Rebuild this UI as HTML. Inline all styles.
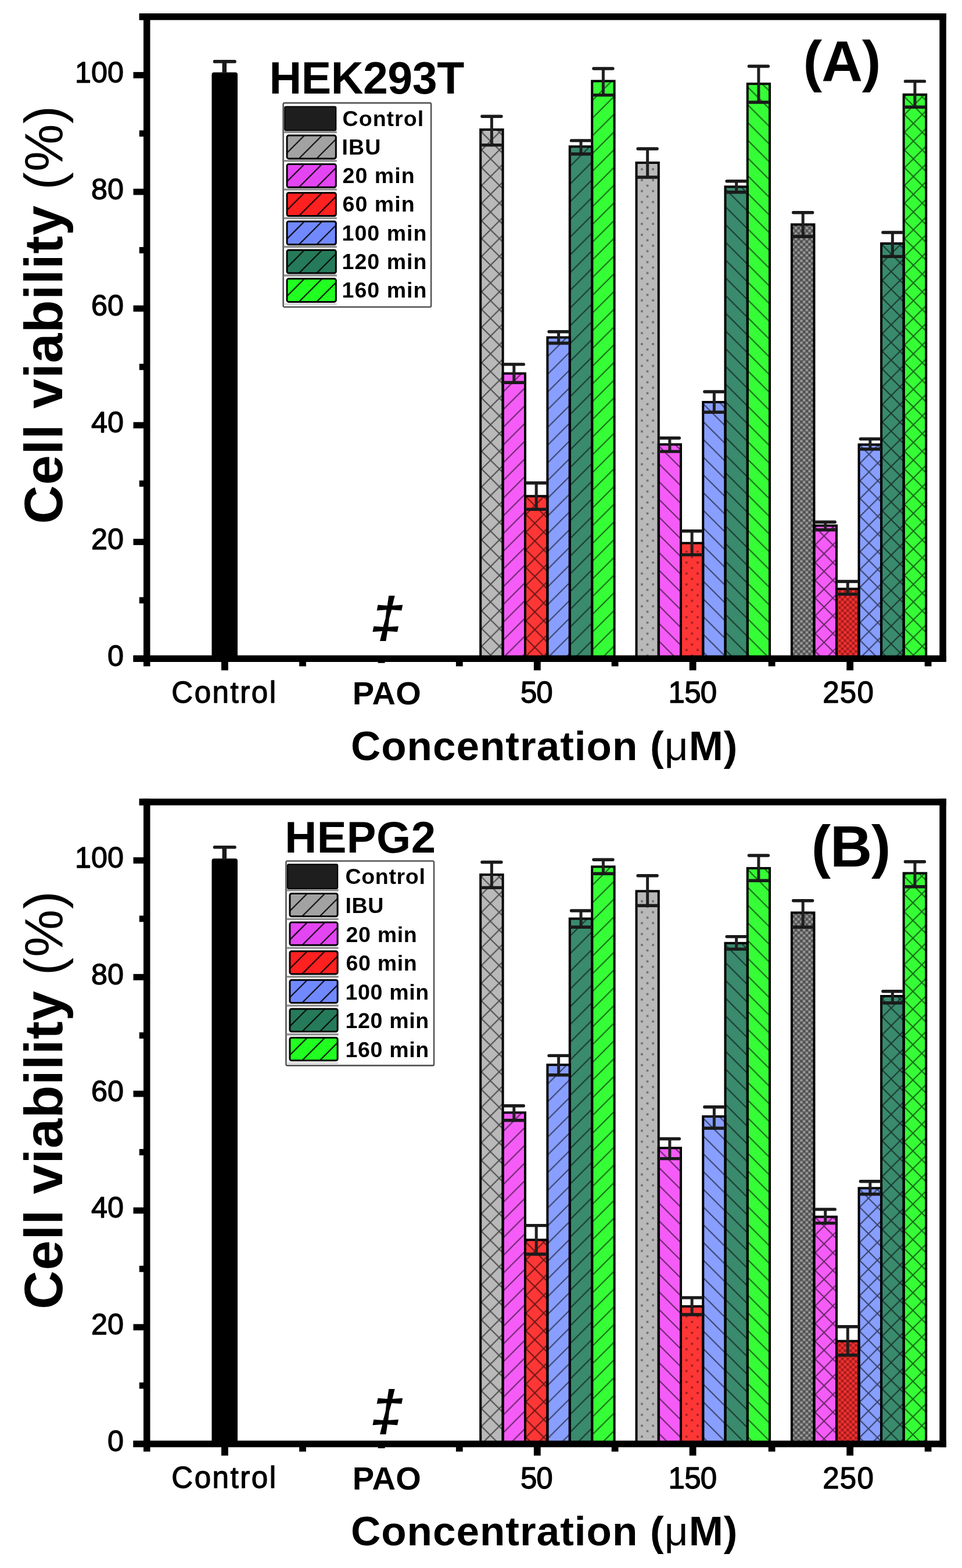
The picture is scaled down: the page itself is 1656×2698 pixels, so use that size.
<!DOCTYPE html><html><head><meta charset="utf-8"><title>Cell viability</title><style>
html,body{margin:0;padding:0;background:#fff;}
svg{display:block} text{font-family:'Liberation Sans', Arial, sans-serif;fill:#000}
</style></head><body>
<svg width="1656" height="2698" viewBox="0 0 1656 2698">
<defs>
<pattern id="pf" patternUnits="userSpaceOnUse" width="30.5" height="30.5">
<path d="M-15.25,15.25 L15.25,-15.25 M0,30.5 L30.5,0 M15.25,45.75 L45.75,15.25" stroke="#000" stroke-width="2.1" stroke-opacity="0.58" fill="none"/>
</pattern>
<pattern id="pb" patternUnits="userSpaceOnUse" width="30.5" height="30.5">
<path d="M-15.25,15.25 L15.25,45.75 M0,0 L30.5,30.5 M15.25,-15.25 L45.75,15.25" stroke="#000" stroke-width="2.1" stroke-opacity="0.58" fill="none"/>
</pattern>
<pattern id="px" patternUnits="userSpaceOnUse" width="30.5" height="30.5">
<path d="M-15.25,15.25 L15.25,-15.25 M0,30.5 L30.5,0 M15.25,45.75 L45.75,15.25" stroke="#000" stroke-width="2.1" stroke-opacity="0.58" fill="none"/>
<path d="M-15.25,15.25 L15.25,45.75 M0,0 L30.5,30.5 M15.25,-15.25 L45.75,15.25" stroke="#000" stroke-width="2.1" stroke-opacity="0.58" fill="none"/>
</pattern>
<pattern id="plf" patternUnits="userSpaceOnUse" width="31" height="31">
<path d="M-15.5,15.5 L15.5,-15.5 M0,31 L31,0 M15.5,46.5 L46.5,15.5" stroke="#000" stroke-width="2.2" stroke-opacity="0.8" fill="none"/>
</pattern>
<pattern id="pdot" patternUnits="userSpaceOnUse" width="19.2" height="18.8" patternTransform="translate(10.5,9.2)"><rect x="-1.75" y="-1.75" width="3.5" height="3.5" fill="#000" fill-opacity="0.42"/><rect x="17.45" y="-1.75" width="3.5" height="3.5" fill="#000" fill-opacity="0.42"/><rect x="-1.75" y="17.05" width="3.5" height="3.5" fill="#000" fill-opacity="0.42"/><rect x="17.45" y="17.05" width="3.5" height="3.5" fill="#000" fill-opacity="0.42"/><rect x="7.85" y="7.65" width="3.5" height="3.5" fill="#000" fill-opacity="0.42"/></pattern>
<pattern id="pchkg" patternUnits="userSpaceOnUse" width="9.4" height="9.4"><rect width="9.4" height="9.4" fill="#696969"/><rect x="0.6" y="0.9" width="3.6" height="2.9" fill="#a3a3a3"/><rect x="5.3" y="5.6" width="3.6" height="2.9" fill="#a3a3a3"/><rect x="5.3" y="0.9" width="3.6" height="2.9" fill="#494949"/><rect x="0.6" y="5.6" width="3.6" height="2.9" fill="#494949"/></pattern>
<pattern id="pchkr" patternUnits="userSpaceOnUse" width="9.4" height="9.4"><rect width="9.4" height="9.4" fill="#cc2626"/><rect x="0.6" y="0.9" width="3.6" height="2.9" fill="#fa3636"/><rect x="5.3" y="5.6" width="3.6" height="2.9" fill="#fa3636"/><rect x="5.3" y="0.9" width="3.6" height="2.9" fill="#981818"/><rect x="0.6" y="5.6" width="3.6" height="2.9" fill="#981818"/></pattern>
</defs>
<rect width="1656" height="2698" fill="#fff"/>
<rect x="364.5" y="124.4" width="44.5" height="1008.9" rx="4" fill="#000"/>
<line x1="386.3" y1="105.9" x2="386.3" y2="126.4" stroke="#1a1a1a" stroke-width="7.5"/>
<line x1="369.5" y1="105.9" x2="404" y2="105.9" stroke="#1a1a1a" stroke-width="5.6" stroke-linecap="round"/>
<rect x="827.20" y="223.00" width="38.40" height="907.50" fill="#b9b9b9"/>
<pattern id="hA50IBU" patternUnits="userSpaceOnUse" width="30.5" height="30.5" patternTransform="translate(5.65,14.05)"><path d="M-15.25,15.25 L15.25,-15.25 M0,30.5 L30.5,0 M15.25,45.75 L45.75,15.25 M-15.25,15.25 L15.25,45.75 M0,0 L30.5,30.5 M15.25,-15.25 L45.75,15.25" stroke="#000" stroke-width="2.1" stroke-opacity="0.58" fill="none"/></pattern>
<rect x="827.20" y="223.00" width="38.40" height="907.50" fill="url(#hA50IBU)"/>
<rect x="865.60" y="642.60" width="38.40" height="487.90" fill="#f55cf7"/>
<pattern id="hA5020" patternUnits="userSpaceOnUse" width="30.5" height="30.5" patternTransform="translate(0.00,15.50)"><path d="M-15.25,15.25 L15.25,-15.25 M0,30.5 L30.5,0 M15.25,45.75 L45.75,15.25" stroke="#000" stroke-width="2.1" stroke-opacity="0.58" fill="none"/></pattern>
<rect x="865.60" y="642.60" width="38.40" height="487.90" fill="url(#hA5020)"/>
<rect x="904.00" y="853.70" width="38.40" height="276.80" fill="#ff3636"/>
<pattern id="hA5060" patternUnits="userSpaceOnUse" width="30.5" height="30.5" patternTransform="translate(5.60,15.90)"><path d="M-15.25,15.25 L15.25,-15.25 M0,30.5 L30.5,0 M15.25,45.75 L45.75,15.25 M-15.25,15.25 L15.25,45.75 M0,0 L30.5,30.5 M15.25,-15.25 L45.75,15.25" stroke="#000" stroke-width="2.1" stroke-opacity="0.58" fill="none"/></pattern>
<rect x="904.00" y="853.70" width="38.40" height="276.80" fill="url(#hA5060)"/>
<rect x="942.40" y="580.60" width="38.40" height="549.90" fill="#889fff"/>
<pattern id="hA50100" patternUnits="userSpaceOnUse" width="30.5" height="30.5" patternTransform="translate(0.00,0.70)"><path d="M-15.25,15.25 L15.25,-15.25 M0,30.5 L30.5,0 M15.25,45.75 L45.75,15.25" stroke="#000" stroke-width="2.1" stroke-opacity="0.58" fill="none"/></pattern>
<rect x="942.40" y="580.60" width="38.40" height="549.90" fill="url(#hA50100)"/>
<rect x="980.80" y="252.20" width="38.40" height="878.30" fill="#3a8a6e"/>
<pattern id="hA50120" patternUnits="userSpaceOnUse" width="30.5" height="30.5" patternTransform="translate(0.00,17.00)"><path d="M-15.25,15.25 L15.25,-15.25 M0,30.5 L30.5,0 M15.25,45.75 L45.75,15.25" stroke="#000" stroke-width="2.1" stroke-opacity="0.58" fill="none"/></pattern>
<rect x="980.80" y="252.20" width="38.40" height="878.30" fill="url(#hA50120)"/>
<rect x="1019.20" y="139.50" width="38.40" height="991.00" fill="#36fe36"/>
<pattern id="hA50160" patternUnits="userSpaceOnUse" width="30.5" height="30.5" patternTransform="translate(0.00,3.00)"><path d="M-15.25,15.25 L15.25,-15.25 M0,30.5 L30.5,0 M15.25,45.75 L45.75,15.25" stroke="#000" stroke-width="2.1" stroke-opacity="0.58" fill="none"/></pattern>
<rect x="1019.20" y="139.50" width="38.40" height="991.00" fill="url(#hA50160)"/>
<rect x="827.20" y="223.00" width="38.40" height="907.50" fill="none" stroke="#000" stroke-width="4.0"/>
<rect x="865.60" y="642.60" width="38.40" height="487.90" fill="none" stroke="#000" stroke-width="4.0"/>
<rect x="904.00" y="853.70" width="38.40" height="276.80" fill="none" stroke="#000" stroke-width="4.0"/>
<rect x="942.40" y="580.60" width="38.40" height="549.90" fill="none" stroke="#000" stroke-width="4.0"/>
<rect x="980.80" y="252.20" width="38.40" height="878.30" fill="none" stroke="#000" stroke-width="4.0"/>
<rect x="1019.20" y="139.50" width="38.40" height="991.00" fill="none" stroke="#000" stroke-width="4.0"/>
<line x1="846.40" y1="200.30" x2="846.40" y2="249.60" stroke="#202020" stroke-width="5"/>
<line x1="829.90" y1="200.30" x2="862.90" y2="200.30" stroke="#1a1a1a" stroke-width="5.4" stroke-linecap="round"/>
<line x1="829.90" y1="249.60" x2="862.90" y2="249.60" stroke="#1a1a1a" stroke-width="5.4" stroke-linecap="round"/>
<line x1="884.80" y1="626.90" x2="884.80" y2="658.30" stroke="#202020" stroke-width="5"/>
<line x1="868.30" y1="626.90" x2="901.30" y2="626.90" stroke="#1a1a1a" stroke-width="5.4" stroke-linecap="round"/>
<line x1="868.30" y1="658.30" x2="901.30" y2="658.30" stroke="#1a1a1a" stroke-width="5.4" stroke-linecap="round"/>
<line x1="923.20" y1="831.00" x2="923.20" y2="876.40" stroke="#202020" stroke-width="5"/>
<line x1="906.70" y1="831.00" x2="939.70" y2="831.00" stroke="#1a1a1a" stroke-width="5.4" stroke-linecap="round"/>
<line x1="906.70" y1="876.40" x2="939.70" y2="876.40" stroke="#1a1a1a" stroke-width="5.4" stroke-linecap="round"/>
<line x1="961.60" y1="570.70" x2="961.60" y2="590.50" stroke="#202020" stroke-width="5"/>
<line x1="945.10" y1="570.70" x2="978.10" y2="570.70" stroke="#1a1a1a" stroke-width="5.4" stroke-linecap="round"/>
<line x1="945.10" y1="590.50" x2="978.10" y2="590.50" stroke="#1a1a1a" stroke-width="5.4" stroke-linecap="round"/>
<line x1="1000.00" y1="241.90" x2="1000.00" y2="265.00" stroke="#202020" stroke-width="5"/>
<line x1="983.50" y1="241.90" x2="1016.50" y2="241.90" stroke="#1a1a1a" stroke-width="5.4" stroke-linecap="round"/>
<line x1="983.50" y1="265.00" x2="1016.50" y2="265.00" stroke="#1a1a1a" stroke-width="5.4" stroke-linecap="round"/>
<line x1="1038.40" y1="118.00" x2="1038.40" y2="163.60" stroke="#202020" stroke-width="5"/>
<line x1="1021.90" y1="118.00" x2="1054.90" y2="118.00" stroke="#1a1a1a" stroke-width="5.4" stroke-linecap="round"/>
<line x1="1021.90" y1="163.60" x2="1054.90" y2="163.60" stroke="#1a1a1a" stroke-width="5.4" stroke-linecap="round"/>
<rect x="1095.50" y="280.00" width="38.25" height="850.50" fill="#b9b9b9"/>
<rect x="1095.50" y="280.00" width="38.25" height="850.50" fill="url(#pdot)"/>
<rect x="1133.75" y="764.70" width="38.25" height="365.80" fill="#f55cf7"/>
<pattern id="hA15020" patternUnits="userSpaceOnUse" width="30.5" height="30.5" patternTransform="translate(0.00,29.80)"><path d="M-15.25,15.25 L15.25,45.75 M0,0 L30.5,30.5 M15.25,-15.25 L45.75,15.25" stroke="#000" stroke-width="2.1" stroke-opacity="0.58" fill="none"/></pattern>
<rect x="1133.75" y="764.70" width="38.25" height="365.80" fill="url(#hA15020)"/>
<rect x="1172.00" y="934.50" width="38.25" height="196.00" fill="#ff3636"/>
<rect x="1172.00" y="934.50" width="38.25" height="196.00" fill="url(#pdot)"/>
<rect x="1210.25" y="691.90" width="38.25" height="438.60" fill="#889fff"/>
<pattern id="hA150100" patternUnits="userSpaceOnUse" width="30.5" height="30.5" patternTransform="translate(0.00,2.90)"><path d="M-15.25,15.25 L15.25,45.75 M0,0 L30.5,30.5 M15.25,-15.25 L45.75,15.25" stroke="#000" stroke-width="2.1" stroke-opacity="0.58" fill="none"/></pattern>
<rect x="1210.25" y="691.90" width="38.25" height="438.60" fill="url(#hA150100)"/>
<rect x="1248.50" y="321.30" width="38.25" height="809.20" fill="#3a8a6e"/>
<pattern id="hA150120" patternUnits="userSpaceOnUse" width="30.5" height="30.5" patternTransform="translate(0.00,22.00)"><path d="M-15.25,15.25 L15.25,45.75 M0,0 L30.5,30.5 M15.25,-15.25 L45.75,15.25" stroke="#000" stroke-width="2.1" stroke-opacity="0.58" fill="none"/></pattern>
<rect x="1248.50" y="321.30" width="38.25" height="809.20" fill="url(#hA150120)"/>
<rect x="1286.75" y="144.20" width="38.25" height="986.30" fill="#36fe36"/>
<pattern id="hA150160" patternUnits="userSpaceOnUse" width="30.5" height="30.5" patternTransform="translate(0.00,21.70)"><path d="M-15.25,15.25 L15.25,45.75 M0,0 L30.5,30.5 M15.25,-15.25 L45.75,15.25" stroke="#000" stroke-width="2.1" stroke-opacity="0.58" fill="none"/></pattern>
<rect x="1286.75" y="144.20" width="38.25" height="986.30" fill="url(#hA150160)"/>
<rect x="1095.50" y="280.00" width="38.25" height="850.50" fill="none" stroke="#000" stroke-width="4.0"/>
<rect x="1133.75" y="764.70" width="38.25" height="365.80" fill="none" stroke="#000" stroke-width="4.0"/>
<rect x="1172.00" y="934.50" width="38.25" height="196.00" fill="none" stroke="#000" stroke-width="4.0"/>
<rect x="1210.25" y="691.90" width="38.25" height="438.60" fill="none" stroke="#000" stroke-width="4.0"/>
<rect x="1248.50" y="321.30" width="38.25" height="809.20" fill="none" stroke="#000" stroke-width="4.0"/>
<rect x="1286.75" y="144.20" width="38.25" height="986.30" fill="none" stroke="#000" stroke-width="4.0"/>
<line x1="1114.62" y1="256.00" x2="1114.62" y2="305.00" stroke="#202020" stroke-width="5"/>
<line x1="1098.12" y1="256.00" x2="1131.12" y2="256.00" stroke="#1a1a1a" stroke-width="5.4" stroke-linecap="round"/>
<line x1="1098.12" y1="305.00" x2="1131.12" y2="305.00" stroke="#1a1a1a" stroke-width="5.4" stroke-linecap="round"/>
<line x1="1152.88" y1="753.70" x2="1152.88" y2="776.90" stroke="#202020" stroke-width="5"/>
<line x1="1136.38" y1="753.70" x2="1169.38" y2="753.70" stroke="#1a1a1a" stroke-width="5.4" stroke-linecap="round"/>
<line x1="1136.38" y1="776.90" x2="1169.38" y2="776.90" stroke="#1a1a1a" stroke-width="5.4" stroke-linecap="round"/>
<line x1="1191.12" y1="913.80" x2="1191.12" y2="954.60" stroke="#202020" stroke-width="5"/>
<line x1="1174.62" y1="913.80" x2="1207.62" y2="913.80" stroke="#1a1a1a" stroke-width="5.4" stroke-linecap="round"/>
<line x1="1174.62" y1="954.60" x2="1207.62" y2="954.60" stroke="#1a1a1a" stroke-width="5.4" stroke-linecap="round"/>
<line x1="1229.38" y1="674.00" x2="1229.38" y2="709.30" stroke="#202020" stroke-width="5"/>
<line x1="1212.88" y1="674.00" x2="1245.88" y2="674.00" stroke="#1a1a1a" stroke-width="5.4" stroke-linecap="round"/>
<line x1="1212.88" y1="709.30" x2="1245.88" y2="709.30" stroke="#1a1a1a" stroke-width="5.4" stroke-linecap="round"/>
<line x1="1267.62" y1="311.80" x2="1267.62" y2="330.80" stroke="#202020" stroke-width="5"/>
<line x1="1251.12" y1="311.80" x2="1284.12" y2="311.80" stroke="#1a1a1a" stroke-width="5.4" stroke-linecap="round"/>
<line x1="1251.12" y1="330.80" x2="1284.12" y2="330.80" stroke="#1a1a1a" stroke-width="5.4" stroke-linecap="round"/>
<line x1="1305.88" y1="114.00" x2="1305.88" y2="176.00" stroke="#202020" stroke-width="5"/>
<line x1="1289.38" y1="114.00" x2="1322.38" y2="114.00" stroke="#1a1a1a" stroke-width="5.4" stroke-linecap="round"/>
<line x1="1289.38" y1="176.00" x2="1322.38" y2="176.00" stroke="#1a1a1a" stroke-width="5.4" stroke-linecap="round"/>
<rect x="1362.90" y="386.30" width="38.55" height="744.20" fill="#b9b9b9"/>
<rect x="1362.90" y="386.30" width="38.55" height="744.20" fill="url(#pchkg)"/>
<rect x="1401.45" y="904.40" width="38.55" height="226.10" fill="#f55cf7"/>
<pattern id="hA25020" patternUnits="userSpaceOnUse" width="30.5" height="30.5" patternTransform="translate(0.25,22.55)"><path d="M-15.25,15.25 L15.25,-15.25 M0,30.5 L30.5,0 M15.25,45.75 L45.75,15.25 M-15.25,15.25 L15.25,45.75 M0,0 L30.5,30.5 M15.25,-15.25 L45.75,15.25" stroke="#000" stroke-width="2.1" stroke-opacity="0.58" fill="none"/></pattern>
<rect x="1401.45" y="904.40" width="38.55" height="226.10" fill="url(#hA25020)"/>
<rect x="1440.00" y="1013.30" width="38.55" height="117.20" fill="#ff3636"/>
<rect x="1440.00" y="1013.30" width="38.55" height="117.20" fill="url(#pchkr)"/>
<rect x="1478.55" y="765.00" width="38.55" height="365.50" fill="#889fff"/>
<pattern id="hA250100" patternUnits="userSpaceOnUse" width="30.5" height="30.5" patternTransform="translate(1.30,19.10)"><path d="M-15.25,15.25 L15.25,-15.25 M0,30.5 L30.5,0 M15.25,45.75 L45.75,15.25 M-15.25,15.25 L15.25,45.75 M0,0 L30.5,30.5 M15.25,-15.25 L45.75,15.25" stroke="#000" stroke-width="2.1" stroke-opacity="0.58" fill="none"/></pattern>
<rect x="1478.55" y="765.00" width="38.55" height="365.50" fill="url(#hA250100)"/>
<rect x="1517.10" y="419.00" width="38.55" height="711.50" fill="#3a8a6e"/>
<pattern id="hA250120" patternUnits="userSpaceOnUse" width="30.5" height="30.5" patternTransform="translate(9.00,9.75)"><path d="M-15.25,15.25 L15.25,-15.25 M0,30.5 L30.5,0 M15.25,45.75 L45.75,15.25 M-15.25,15.25 L15.25,45.75 M0,0 L30.5,30.5 M15.25,-15.25 L45.75,15.25" stroke="#000" stroke-width="2.1" stroke-opacity="0.58" fill="none"/></pattern>
<rect x="1517.10" y="419.00" width="38.55" height="711.50" fill="url(#hA250120)"/>
<rect x="1555.65" y="162.80" width="38.55" height="967.70" fill="#36fe36"/>
<pattern id="hA250160" patternUnits="userSpaceOnUse" width="30.5" height="30.5" patternTransform="translate(1.55,14.10)"><path d="M-15.25,15.25 L15.25,-15.25 M0,30.5 L30.5,0 M15.25,45.75 L45.75,15.25 M-15.25,15.25 L15.25,45.75 M0,0 L30.5,30.5 M15.25,-15.25 L45.75,15.25" stroke="#000" stroke-width="2.1" stroke-opacity="0.58" fill="none"/></pattern>
<rect x="1555.65" y="162.80" width="38.55" height="967.70" fill="url(#hA250160)"/>
<rect x="1362.90" y="386.30" width="38.55" height="744.20" fill="none" stroke="#000" stroke-width="4.0"/>
<rect x="1401.45" y="904.40" width="38.55" height="226.10" fill="none" stroke="#000" stroke-width="4.0"/>
<rect x="1440.00" y="1013.30" width="38.55" height="117.20" fill="none" stroke="#000" stroke-width="4.0"/>
<rect x="1478.55" y="765.00" width="38.55" height="365.50" fill="none" stroke="#000" stroke-width="4.0"/>
<rect x="1517.10" y="419.00" width="38.55" height="711.50" fill="none" stroke="#000" stroke-width="4.0"/>
<rect x="1555.65" y="162.80" width="38.55" height="967.70" fill="none" stroke="#000" stroke-width="4.0"/>
<line x1="1382.18" y1="365.70" x2="1382.18" y2="407.00" stroke="#202020" stroke-width="5"/>
<line x1="1365.68" y1="365.70" x2="1398.68" y2="365.70" stroke="#1a1a1a" stroke-width="5.4" stroke-linecap="round"/>
<line x1="1365.68" y1="407.00" x2="1398.68" y2="407.00" stroke="#1a1a1a" stroke-width="5.4" stroke-linecap="round"/>
<line x1="1420.73" y1="898.30" x2="1420.73" y2="911.70" stroke="#202020" stroke-width="5"/>
<line x1="1404.23" y1="898.30" x2="1437.23" y2="898.30" stroke="#1a1a1a" stroke-width="5.4" stroke-linecap="round"/>
<line x1="1404.23" y1="911.70" x2="1437.23" y2="911.70" stroke="#1a1a1a" stroke-width="5.4" stroke-linecap="round"/>
<line x1="1459.28" y1="1000.50" x2="1459.28" y2="1022.40" stroke="#202020" stroke-width="5"/>
<line x1="1442.78" y1="1000.50" x2="1475.78" y2="1000.50" stroke="#1a1a1a" stroke-width="5.4" stroke-linecap="round"/>
<line x1="1442.78" y1="1022.40" x2="1475.78" y2="1022.40" stroke="#1a1a1a" stroke-width="5.4" stroke-linecap="round"/>
<line x1="1497.83" y1="755.20" x2="1497.83" y2="772.90" stroke="#202020" stroke-width="5"/>
<line x1="1481.33" y1="755.20" x2="1514.33" y2="755.20" stroke="#1a1a1a" stroke-width="5.4" stroke-linecap="round"/>
<line x1="1481.33" y1="772.90" x2="1514.33" y2="772.90" stroke="#1a1a1a" stroke-width="5.4" stroke-linecap="round"/>
<line x1="1536.38" y1="400.00" x2="1536.38" y2="441.40" stroke="#202020" stroke-width="5"/>
<line x1="1519.88" y1="400.00" x2="1552.88" y2="400.00" stroke="#1a1a1a" stroke-width="5.4" stroke-linecap="round"/>
<line x1="1519.88" y1="441.40" x2="1552.88" y2="441.40" stroke="#1a1a1a" stroke-width="5.4" stroke-linecap="round"/>
<line x1="1574.93" y1="139.90" x2="1574.93" y2="184.30" stroke="#202020" stroke-width="5"/>
<line x1="1558.43" y1="139.90" x2="1591.43" y2="139.90" stroke="#1a1a1a" stroke-width="5.4" stroke-linecap="round"/>
<line x1="1558.43" y1="184.30" x2="1591.43" y2="184.30" stroke="#1a1a1a" stroke-width="5.4" stroke-linecap="round"/>
<rect x="239.7" y="23" width="1389.3" height="11.5" fill="#000"/>
<rect x="247" y="23" width="11.5" height="1123.5" fill="#000"/>
<rect x="1617.3" y="23" width="11.5" height="1116" fill="#000"/>
<rect x="229.5" y="1127.6" width="1399.5" height="11.4" fill="#000"/>
<rect x="229.5" y="1127.9" width="18" height="10.8" fill="#000"/>
<rect x="239.8" y="1027.5" width="8" height="10.8" fill="#000"/>
<rect x="229.5" y="927.1" width="18" height="10.8" fill="#000"/>
<rect x="239.8" y="826.7" width="8" height="10.8" fill="#000"/>
<rect x="229.5" y="726.3" width="18" height="10.8" fill="#000"/>
<rect x="239.8" y="625.9" width="8" height="10.8" fill="#000"/>
<rect x="229.5" y="525.5" width="18" height="10.8" fill="#000"/>
<rect x="239.8" y="425.1" width="8" height="10.8" fill="#000"/>
<rect x="229.5" y="324.7" width="18" height="10.8" fill="#000"/>
<rect x="239.8" y="224.3" width="8" height="10.8" fill="#000"/>
<rect x="229.5" y="123.9" width="18" height="10.8" fill="#000"/>
<rect x="239.8" y="23.5" width="8" height="10.8" fill="#000"/>
<rect x="381.0" y="1138" width="11.8" height="15.4" fill="#000"/>
<rect x="650.7" y="1138" width="11.8" height="15.4" fill="#000"/>
<rect x="918.9" y="1138" width="11.8" height="15.4" fill="#000"/>
<rect x="1186.7" y="1138" width="11.8" height="15.4" fill="#000"/>
<rect x="1457.3" y="1138" width="11.8" height="15.4" fill="#000"/>
<rect x="515.1" y="1138" width="11.8" height="8.5" fill="#000"/>
<rect x="784.9" y="1138" width="11.8" height="8.5" fill="#000"/>
<rect x="1052.7" y="1138" width="11.8" height="8.5" fill="#000"/>
<rect x="1322.7" y="1138" width="11.8" height="8.5" fill="#000"/>
<rect x="1591.7" y="1138" width="11.8" height="8.5" fill="#000"/>
<text x="185.0" y="1145.8" style="font-size:50.3px;font-weight:400;letter-spacing:0px;stroke:#000;stroke-width:1.3px;stroke-linejoin:round">0</text>
<text x="157.0" y="945.0" style="font-size:50.3px;font-weight:400;letter-spacing:0px;stroke:#000;stroke-width:1.3px;stroke-linejoin:round">20</text>
<text x="157.0" y="744.2" style="font-size:50.3px;font-weight:400;letter-spacing:0px;stroke:#000;stroke-width:1.3px;stroke-linejoin:round">40</text>
<text x="157.0" y="543.4" style="font-size:50.3px;font-weight:400;letter-spacing:0px;stroke:#000;stroke-width:1.3px;stroke-linejoin:round">60</text>
<text x="157.0" y="342.6" style="font-size:50.3px;font-weight:400;letter-spacing:0px;stroke:#000;stroke-width:1.3px;stroke-linejoin:round">80</text>
<text x="129.0" y="141.8" style="font-size:50.3px;font-weight:400;letter-spacing:0px;stroke:#000;stroke-width:1.3px;stroke-linejoin:round">100</text>
<rect x="571.3" y="1140.8" width="187" height="102" fill="#fff"/>
<text x="295.3" y="1208.6" style="font-size:51px;font-weight:400;letter-spacing:2.564px;stroke:#000;stroke-width:1.3px;stroke-linejoin:round">Control</text>
<text x="606.7" y="1211.8" style="font-size:56px;font-weight:700;letter-spacing:0.5px">PAO</text>
<text x="896.0" y="1209.3" style="font-size:51px;font-weight:400;letter-spacing:-1.2px;stroke:#000;stroke-width:1.3px;stroke-linejoin:round">50</text>
<text x="1150.5" y="1209.3" style="font-size:51px;font-weight:400;letter-spacing:-0.7px;stroke:#000;stroke-width:1.3px;stroke-linejoin:round">150</text>
<text x="1416.2" y="1209.3" style="font-size:51px;font-weight:400;letter-spacing:1.3px;stroke:#000;stroke-width:1.3px;stroke-linejoin:round">250</text>
<text x="603.9" y="1307.9" style="font-size:71px;font-weight:700;letter-spacing:1.015px">Concentration (<tspan style="font-weight:400">μ</tspan>M)</text>
<text transform="translate(107.4,901.4) rotate(-90)" style="font-size:92px;font-weight:700;letter-spacing:0.816px">Cell viability <tspan style="font-weight:400">(%)</tspan></text>
<rect x="364.5" y="1477.2" width="44.5" height="1007.3" rx="4" fill="#000"/>
<line x1="386.3" y1="1457.8" x2="386.3" y2="1479.2" stroke="#1a1a1a" stroke-width="7.5"/>
<line x1="369.5" y1="1457.8" x2="404" y2="1457.8" stroke="#1a1a1a" stroke-width="5.6" stroke-linecap="round"/>
<rect x="827.20" y="1505.00" width="38.40" height="976.70" fill="#b9b9b9"/>
<pattern id="hB50IBU" patternUnits="userSpaceOnUse" width="30.5" height="30.5" patternTransform="translate(5.25,14.25)"><path d="M-15.25,15.25 L15.25,-15.25 M0,30.5 L30.5,0 M15.25,45.75 L45.75,15.25 M-15.25,15.25 L15.25,45.75 M0,0 L30.5,30.5 M15.25,-15.25 L45.75,15.25" stroke="#000" stroke-width="2.1" stroke-opacity="0.58" fill="none"/></pattern>
<rect x="827.20" y="1505.00" width="38.40" height="976.70" fill="url(#hB50IBU)"/>
<rect x="865.60" y="1914.40" width="38.40" height="567.30" fill="#f55cf7"/>
<pattern id="hB5020" patternUnits="userSpaceOnUse" width="30.5" height="30.5" patternTransform="translate(0.00,7.00)"><path d="M-15.25,15.25 L15.25,-15.25 M0,30.5 L30.5,0 M15.25,45.75 L45.75,15.25" stroke="#000" stroke-width="2.1" stroke-opacity="0.58" fill="none"/></pattern>
<rect x="865.60" y="1914.40" width="38.40" height="567.30" fill="url(#hB5020)"/>
<rect x="904.00" y="2133.40" width="38.40" height="348.30" fill="#ff3636"/>
<pattern id="hB5060" patternUnits="userSpaceOnUse" width="30.5" height="30.5" patternTransform="translate(5.60,17.70)"><path d="M-15.25,15.25 L15.25,-15.25 M0,30.5 L30.5,0 M15.25,45.75 L45.75,15.25 M-15.25,15.25 L15.25,45.75 M0,0 L30.5,30.5 M15.25,-15.25 L45.75,15.25" stroke="#000" stroke-width="2.1" stroke-opacity="0.58" fill="none"/></pattern>
<rect x="904.00" y="2133.40" width="38.40" height="348.30" fill="url(#hB5060)"/>
<rect x="942.40" y="1832.20" width="38.40" height="649.50" fill="#889fff"/>
<pattern id="hB50100" patternUnits="userSpaceOnUse" width="30.5" height="30.5" patternTransform="translate(0.00,2.00)"><path d="M-15.25,15.25 L15.25,-15.25 M0,30.5 L30.5,0 M15.25,45.75 L45.75,15.25" stroke="#000" stroke-width="2.1" stroke-opacity="0.58" fill="none"/></pattern>
<rect x="942.40" y="1832.20" width="38.40" height="649.50" fill="url(#hB50100)"/>
<rect x="980.80" y="1580.70" width="38.40" height="901.00" fill="#3a8a6e"/>
<pattern id="hB50120" patternUnits="userSpaceOnUse" width="30.5" height="30.5" patternTransform="translate(0.00,29.80)"><path d="M-15.25,15.25 L15.25,-15.25 M0,30.5 L30.5,0 M15.25,45.75 L45.75,15.25" stroke="#000" stroke-width="2.1" stroke-opacity="0.58" fill="none"/></pattern>
<rect x="980.80" y="1580.70" width="38.40" height="901.00" fill="url(#hB50120)"/>
<rect x="1019.20" y="1491.30" width="38.40" height="990.40" fill="#36fe36"/>
<pattern id="hB50160" patternUnits="userSpaceOnUse" width="30.5" height="30.5" patternTransform="translate(0.00,11.40)"><path d="M-15.25,15.25 L15.25,-15.25 M0,30.5 L30.5,0 M15.25,45.75 L45.75,15.25" stroke="#000" stroke-width="2.1" stroke-opacity="0.58" fill="none"/></pattern>
<rect x="1019.20" y="1491.30" width="38.40" height="990.40" fill="url(#hB50160)"/>
<rect x="827.20" y="1505.00" width="38.40" height="976.70" fill="none" stroke="#000" stroke-width="4.0"/>
<rect x="865.60" y="1914.40" width="38.40" height="567.30" fill="none" stroke="#000" stroke-width="4.0"/>
<rect x="904.00" y="2133.40" width="38.40" height="348.30" fill="none" stroke="#000" stroke-width="4.0"/>
<rect x="942.40" y="1832.20" width="38.40" height="649.50" fill="none" stroke="#000" stroke-width="4.0"/>
<rect x="980.80" y="1580.70" width="38.40" height="901.00" fill="none" stroke="#000" stroke-width="4.0"/>
<rect x="1019.20" y="1491.30" width="38.40" height="990.40" fill="none" stroke="#000" stroke-width="4.0"/>
<line x1="846.40" y1="1483.50" x2="846.40" y2="1527.40" stroke="#202020" stroke-width="5"/>
<line x1="829.90" y1="1483.50" x2="862.90" y2="1483.50" stroke="#1a1a1a" stroke-width="5.4" stroke-linecap="round"/>
<line x1="829.90" y1="1527.40" x2="862.90" y2="1527.40" stroke="#1a1a1a" stroke-width="5.4" stroke-linecap="round"/>
<line x1="884.80" y1="1902.80" x2="884.80" y2="1927.70" stroke="#202020" stroke-width="5"/>
<line x1="868.30" y1="1902.80" x2="901.30" y2="1902.80" stroke="#1a1a1a" stroke-width="5.4" stroke-linecap="round"/>
<line x1="868.30" y1="1927.70" x2="901.30" y2="1927.70" stroke="#1a1a1a" stroke-width="5.4" stroke-linecap="round"/>
<line x1="923.20" y1="2108.60" x2="923.20" y2="2158.00" stroke="#202020" stroke-width="5"/>
<line x1="906.70" y1="2108.60" x2="939.70" y2="2108.60" stroke="#1a1a1a" stroke-width="5.4" stroke-linecap="round"/>
<line x1="906.70" y1="2158.00" x2="939.70" y2="2158.00" stroke="#1a1a1a" stroke-width="5.4" stroke-linecap="round"/>
<line x1="961.60" y1="1816.40" x2="961.60" y2="1849.80" stroke="#202020" stroke-width="5"/>
<line x1="945.10" y1="1816.40" x2="978.10" y2="1816.40" stroke="#1a1a1a" stroke-width="5.4" stroke-linecap="round"/>
<line x1="945.10" y1="1849.80" x2="978.10" y2="1849.80" stroke="#1a1a1a" stroke-width="5.4" stroke-linecap="round"/>
<line x1="1000.00" y1="1567.00" x2="1000.00" y2="1595.30" stroke="#202020" stroke-width="5"/>
<line x1="983.50" y1="1567.00" x2="1016.50" y2="1567.00" stroke="#1a1a1a" stroke-width="5.4" stroke-linecap="round"/>
<line x1="983.50" y1="1595.30" x2="1016.50" y2="1595.30" stroke="#1a1a1a" stroke-width="5.4" stroke-linecap="round"/>
<line x1="1038.40" y1="1479.20" x2="1038.40" y2="1503.30" stroke="#202020" stroke-width="5"/>
<line x1="1021.90" y1="1479.20" x2="1054.90" y2="1479.20" stroke="#1a1a1a" stroke-width="5.4" stroke-linecap="round"/>
<line x1="1021.90" y1="1503.30" x2="1054.90" y2="1503.30" stroke="#1a1a1a" stroke-width="5.4" stroke-linecap="round"/>
<rect x="1095.50" y="1533.40" width="38.25" height="948.30" fill="#b9b9b9"/>
<rect x="1095.50" y="1533.40" width="38.25" height="948.30" fill="url(#pdot)"/>
<rect x="1133.75" y="1975.30" width="38.25" height="506.40" fill="#f55cf7"/>
<pattern id="hB15020" patternUnits="userSpaceOnUse" width="30.5" height="30.5" patternTransform="translate(0.00,20.70)"><path d="M-15.25,15.25 L15.25,45.75 M0,0 L30.5,30.5 M15.25,-15.25 L45.75,15.25" stroke="#000" stroke-width="2.1" stroke-opacity="0.58" fill="none"/></pattern>
<rect x="1133.75" y="1975.30" width="38.25" height="506.40" fill="url(#hB15020)"/>
<rect x="1172.00" y="2247.80" width="38.25" height="233.90" fill="#ff3636"/>
<rect x="1172.00" y="2247.80" width="38.25" height="233.90" fill="url(#pdot)"/>
<rect x="1210.25" y="1921.10" width="38.25" height="560.60" fill="#889fff"/>
<pattern id="hB150100" patternUnits="userSpaceOnUse" width="30.5" height="30.5" patternTransform="translate(0.00,12.10)"><path d="M-15.25,15.25 L15.25,45.75 M0,0 L30.5,30.5 M15.25,-15.25 L45.75,15.25" stroke="#000" stroke-width="2.1" stroke-opacity="0.58" fill="none"/></pattern>
<rect x="1210.25" y="1921.10" width="38.25" height="560.60" fill="url(#hB150100)"/>
<rect x="1248.50" y="1622.80" width="38.25" height="858.90" fill="#3a8a6e"/>
<pattern id="hB150120" patternUnits="userSpaceOnUse" width="30.5" height="30.5" patternTransform="translate(0.00,11.10)"><path d="M-15.25,15.25 L15.25,45.75 M0,0 L30.5,30.5 M15.25,-15.25 L45.75,15.25" stroke="#000" stroke-width="2.1" stroke-opacity="0.58" fill="none"/></pattern>
<rect x="1248.50" y="1622.80" width="38.25" height="858.90" fill="url(#hB150120)"/>
<rect x="1286.75" y="1493.90" width="38.25" height="987.80" fill="#36fe36"/>
<pattern id="hB150160" patternUnits="userSpaceOnUse" width="30.5" height="30.5" patternTransform="translate(0.00,26.20)"><path d="M-15.25,15.25 L15.25,45.75 M0,0 L30.5,30.5 M15.25,-15.25 L45.75,15.25" stroke="#000" stroke-width="2.1" stroke-opacity="0.58" fill="none"/></pattern>
<rect x="1286.75" y="1493.90" width="38.25" height="987.80" fill="url(#hB150160)"/>
<rect x="1095.50" y="1533.40" width="38.25" height="948.30" fill="none" stroke="#000" stroke-width="4.0"/>
<rect x="1133.75" y="1975.30" width="38.25" height="506.40" fill="none" stroke="#000" stroke-width="4.0"/>
<rect x="1172.00" y="2247.80" width="38.25" height="233.90" fill="none" stroke="#000" stroke-width="4.0"/>
<rect x="1210.25" y="1921.10" width="38.25" height="560.60" fill="none" stroke="#000" stroke-width="4.0"/>
<rect x="1248.50" y="1622.80" width="38.25" height="858.90" fill="none" stroke="#000" stroke-width="4.0"/>
<rect x="1286.75" y="1493.90" width="38.25" height="987.80" fill="none" stroke="#000" stroke-width="4.0"/>
<line x1="1114.62" y1="1506.70" x2="1114.62" y2="1558.30" stroke="#202020" stroke-width="5"/>
<line x1="1098.12" y1="1506.70" x2="1131.12" y2="1506.70" stroke="#1a1a1a" stroke-width="5.4" stroke-linecap="round"/>
<line x1="1098.12" y1="1558.30" x2="1131.12" y2="1558.30" stroke="#1a1a1a" stroke-width="5.4" stroke-linecap="round"/>
<line x1="1152.88" y1="1959.50" x2="1152.88" y2="1993.60" stroke="#202020" stroke-width="5"/>
<line x1="1136.38" y1="1959.50" x2="1169.38" y2="1959.50" stroke="#1a1a1a" stroke-width="5.4" stroke-linecap="round"/>
<line x1="1136.38" y1="1993.60" x2="1169.38" y2="1993.60" stroke="#1a1a1a" stroke-width="5.4" stroke-linecap="round"/>
<line x1="1191.12" y1="2232.90" x2="1191.12" y2="2262.00" stroke="#202020" stroke-width="5"/>
<line x1="1174.62" y1="2232.90" x2="1207.62" y2="2232.90" stroke="#1a1a1a" stroke-width="5.4" stroke-linecap="round"/>
<line x1="1174.62" y1="2262.00" x2="1207.62" y2="2262.00" stroke="#1a1a1a" stroke-width="5.4" stroke-linecap="round"/>
<line x1="1229.38" y1="1904.70" x2="1229.38" y2="1941.20" stroke="#202020" stroke-width="5"/>
<line x1="1212.88" y1="1904.70" x2="1245.88" y2="1904.70" stroke="#1a1a1a" stroke-width="5.4" stroke-linecap="round"/>
<line x1="1212.88" y1="1941.20" x2="1245.88" y2="1941.20" stroke="#1a1a1a" stroke-width="5.4" stroke-linecap="round"/>
<line x1="1267.62" y1="1611.60" x2="1267.62" y2="1633.10" stroke="#202020" stroke-width="5"/>
<line x1="1251.12" y1="1611.60" x2="1284.12" y2="1611.60" stroke="#1a1a1a" stroke-width="5.4" stroke-linecap="round"/>
<line x1="1251.12" y1="1633.10" x2="1284.12" y2="1633.10" stroke="#1a1a1a" stroke-width="5.4" stroke-linecap="round"/>
<line x1="1305.88" y1="1472.00" x2="1305.88" y2="1515.30" stroke="#202020" stroke-width="5"/>
<line x1="1289.38" y1="1472.00" x2="1322.38" y2="1472.00" stroke="#1a1a1a" stroke-width="5.4" stroke-linecap="round"/>
<line x1="1289.38" y1="1515.30" x2="1322.38" y2="1515.30" stroke="#1a1a1a" stroke-width="5.4" stroke-linecap="round"/>
<rect x="1362.90" y="1570.40" width="38.55" height="911.30" fill="#b9b9b9"/>
<rect x="1362.90" y="1570.40" width="38.55" height="911.30" fill="url(#pchkg)"/>
<rect x="1401.45" y="2093.70" width="38.55" height="388.00" fill="#f55cf7"/>
<pattern id="hB25020" patternUnits="userSpaceOnUse" width="30.5" height="30.5" patternTransform="translate(0.25,20.55)"><path d="M-15.25,15.25 L15.25,-15.25 M0,30.5 L30.5,0 M15.25,45.75 L45.75,15.25 M-15.25,15.25 L15.25,45.75 M0,0 L30.5,30.5 M15.25,-15.25 L45.75,15.25" stroke="#000" stroke-width="2.1" stroke-opacity="0.58" fill="none"/></pattern>
<rect x="1401.45" y="2093.70" width="38.55" height="388.00" fill="url(#hB25020)"/>
<rect x="1440.00" y="2307.60" width="38.55" height="174.10" fill="#ff3636"/>
<rect x="1440.00" y="2307.60" width="38.55" height="174.10" fill="url(#pchkr)"/>
<rect x="1478.55" y="2044.40" width="38.55" height="437.30" fill="#889fff"/>
<pattern id="hB250100" patternUnits="userSpaceOnUse" width="30.5" height="30.5" patternTransform="translate(0.50,18.30)"><path d="M-15.25,15.25 L15.25,-15.25 M0,30.5 L30.5,0 M15.25,45.75 L45.75,15.25 M-15.25,15.25 L15.25,45.75 M0,0 L30.5,30.5 M15.25,-15.25 L45.75,15.25" stroke="#000" stroke-width="2.1" stroke-opacity="0.58" fill="none"/></pattern>
<rect x="1478.55" y="2044.40" width="38.55" height="437.30" fill="url(#hB250100)"/>
<rect x="1517.10" y="1714.00" width="38.55" height="767.70" fill="#3a8a6e"/>
<pattern id="hB250120" patternUnits="userSpaceOnUse" width="30.5" height="30.5" patternTransform="translate(-6.25,11.25)"><path d="M-15.25,15.25 L15.25,-15.25 M0,30.5 L30.5,0 M15.25,45.75 L45.75,15.25 M-15.25,15.25 L15.25,45.75 M0,0 L30.5,30.5 M15.25,-15.25 L45.75,15.25" stroke="#000" stroke-width="2.1" stroke-opacity="0.58" fill="none"/></pattern>
<rect x="1517.10" y="1714.00" width="38.55" height="767.70" fill="url(#hB250120)"/>
<rect x="1555.65" y="1502.50" width="38.55" height="979.20" fill="#36fe36"/>
<pattern id="hB250160" patternUnits="userSpaceOnUse" width="30.5" height="30.5" patternTransform="translate(0.75,13.10)"><path d="M-15.25,15.25 L15.25,-15.25 M0,30.5 L30.5,0 M15.25,45.75 L45.75,15.25 M-15.25,15.25 L15.25,45.75 M0,0 L30.5,30.5 M15.25,-15.25 L45.75,15.25" stroke="#000" stroke-width="2.1" stroke-opacity="0.58" fill="none"/></pattern>
<rect x="1555.65" y="1502.50" width="38.55" height="979.20" fill="url(#hB250160)"/>
<rect x="1362.90" y="1570.40" width="38.55" height="911.30" fill="none" stroke="#000" stroke-width="4.0"/>
<rect x="1401.45" y="2093.70" width="38.55" height="388.00" fill="none" stroke="#000" stroke-width="4.0"/>
<rect x="1440.00" y="2307.60" width="38.55" height="174.10" fill="none" stroke="#000" stroke-width="4.0"/>
<rect x="1478.55" y="2044.40" width="38.55" height="437.30" fill="none" stroke="#000" stroke-width="4.0"/>
<rect x="1517.10" y="1714.00" width="38.55" height="767.70" fill="none" stroke="#000" stroke-width="4.0"/>
<rect x="1555.65" y="1502.50" width="38.55" height="979.20" fill="none" stroke="#000" stroke-width="4.0"/>
<line x1="1382.18" y1="1549.70" x2="1382.18" y2="1595.30" stroke="#202020" stroke-width="5"/>
<line x1="1365.68" y1="1549.70" x2="1398.68" y2="1549.70" stroke="#1a1a1a" stroke-width="5.4" stroke-linecap="round"/>
<line x1="1365.68" y1="1595.30" x2="1398.68" y2="1595.30" stroke="#1a1a1a" stroke-width="5.4" stroke-linecap="round"/>
<line x1="1420.73" y1="2080.90" x2="1420.73" y2="2104.60" stroke="#202020" stroke-width="5"/>
<line x1="1404.23" y1="2080.90" x2="1437.23" y2="2080.90" stroke="#1a1a1a" stroke-width="5.4" stroke-linecap="round"/>
<line x1="1404.23" y1="2104.60" x2="1437.23" y2="2104.60" stroke="#1a1a1a" stroke-width="5.4" stroke-linecap="round"/>
<line x1="1459.28" y1="2282.80" x2="1459.28" y2="2331.80" stroke="#202020" stroke-width="5"/>
<line x1="1442.78" y1="2282.80" x2="1475.78" y2="2282.80" stroke="#1a1a1a" stroke-width="5.4" stroke-linecap="round"/>
<line x1="1442.78" y1="2331.80" x2="1475.78" y2="2331.80" stroke="#1a1a1a" stroke-width="5.4" stroke-linecap="round"/>
<line x1="1497.83" y1="2032.80" x2="1497.83" y2="2054.70" stroke="#202020" stroke-width="5"/>
<line x1="1481.33" y1="2032.80" x2="1514.33" y2="2032.80" stroke="#1a1a1a" stroke-width="5.4" stroke-linecap="round"/>
<line x1="1481.33" y1="2054.70" x2="1514.33" y2="2054.70" stroke="#1a1a1a" stroke-width="5.4" stroke-linecap="round"/>
<line x1="1536.38" y1="1705.70" x2="1536.38" y2="1725.80" stroke="#202020" stroke-width="5"/>
<line x1="1519.88" y1="1705.70" x2="1552.88" y2="1705.70" stroke="#1a1a1a" stroke-width="5.4" stroke-linecap="round"/>
<line x1="1519.88" y1="1725.80" x2="1552.88" y2="1725.80" stroke="#1a1a1a" stroke-width="5.4" stroke-linecap="round"/>
<line x1="1574.93" y1="1482.70" x2="1574.93" y2="1525.70" stroke="#202020" stroke-width="5"/>
<line x1="1558.43" y1="1482.70" x2="1591.43" y2="1482.70" stroke="#1a1a1a" stroke-width="5.4" stroke-linecap="round"/>
<line x1="1558.43" y1="1525.70" x2="1591.43" y2="1525.70" stroke="#1a1a1a" stroke-width="5.4" stroke-linecap="round"/>
<rect x="239.7" y="1374.2" width="1389.3" height="11.5" fill="#000"/>
<rect x="247" y="1374.2" width="11.5" height="1123.5" fill="#000"/>
<rect x="1617.3" y="1374.2" width="11.5" height="1116" fill="#000"/>
<rect x="229.5" y="2478.8" width="1399.5" height="11.4" fill="#000"/>
<rect x="229.5" y="2479.1" width="18" height="10.8" fill="#000"/>
<rect x="239.8" y="2378.7" width="8" height="10.8" fill="#000"/>
<rect x="229.5" y="2278.3" width="18" height="10.8" fill="#000"/>
<rect x="239.8" y="2177.9" width="8" height="10.8" fill="#000"/>
<rect x="229.5" y="2077.5" width="18" height="10.8" fill="#000"/>
<rect x="239.8" y="1977.1" width="8" height="10.8" fill="#000"/>
<rect x="229.5" y="1876.7" width="18" height="10.8" fill="#000"/>
<rect x="239.8" y="1776.3" width="8" height="10.8" fill="#000"/>
<rect x="229.5" y="1675.9" width="18" height="10.8" fill="#000"/>
<rect x="239.8" y="1575.5" width="8" height="10.8" fill="#000"/>
<rect x="229.5" y="1475.1" width="18" height="10.8" fill="#000"/>
<rect x="239.8" y="1374.7" width="8" height="10.8" fill="#000"/>
<rect x="381.0" y="2489.2" width="11.8" height="15.4" fill="#000"/>
<rect x="650.7" y="2489.2" width="11.8" height="15.4" fill="#000"/>
<rect x="918.9" y="2489.2" width="11.8" height="15.4" fill="#000"/>
<rect x="1186.7" y="2489.2" width="11.8" height="15.4" fill="#000"/>
<rect x="1457.3" y="2489.2" width="11.8" height="15.4" fill="#000"/>
<rect x="515.1" y="2489.2" width="11.8" height="8.5" fill="#000"/>
<rect x="784.9" y="2489.2" width="11.8" height="8.5" fill="#000"/>
<rect x="1052.7" y="2489.2" width="11.8" height="8.5" fill="#000"/>
<rect x="1322.7" y="2489.2" width="11.8" height="8.5" fill="#000"/>
<rect x="1591.7" y="2489.2" width="11.8" height="8.5" fill="#000"/>
<text x="185.0" y="2497.0" style="font-size:50.3px;font-weight:400;letter-spacing:0px;stroke:#000;stroke-width:1.3px;stroke-linejoin:round">0</text>
<text x="157.0" y="2296.2" style="font-size:50.3px;font-weight:400;letter-spacing:0px;stroke:#000;stroke-width:1.3px;stroke-linejoin:round">20</text>
<text x="157.0" y="2095.4" style="font-size:50.3px;font-weight:400;letter-spacing:0px;stroke:#000;stroke-width:1.3px;stroke-linejoin:round">40</text>
<text x="157.0" y="1894.6" style="font-size:50.3px;font-weight:400;letter-spacing:0px;stroke:#000;stroke-width:1.3px;stroke-linejoin:round">60</text>
<text x="157.0" y="1693.8" style="font-size:50.3px;font-weight:400;letter-spacing:0px;stroke:#000;stroke-width:1.3px;stroke-linejoin:round">80</text>
<text x="129.0" y="1493.0" style="font-size:50.3px;font-weight:400;letter-spacing:0px;stroke:#000;stroke-width:1.3px;stroke-linejoin:round">100</text>
<rect x="571.3" y="2492.0" width="187" height="102" fill="#fff"/>
<text x="295.3" y="2559.8" style="font-size:51px;font-weight:400;letter-spacing:2.564px;stroke:#000;stroke-width:1.3px;stroke-linejoin:round">Control</text>
<text x="606.7" y="2563.0" style="font-size:56px;font-weight:700;letter-spacing:0.5px">PAO</text>
<text x="896.0" y="2560.5" style="font-size:51px;font-weight:400;letter-spacing:-1.2px;stroke:#000;stroke-width:1.3px;stroke-linejoin:round">50</text>
<text x="1150.5" y="2560.5" style="font-size:51px;font-weight:400;letter-spacing:-0.7px;stroke:#000;stroke-width:1.3px;stroke-linejoin:round">150</text>
<text x="1416.2" y="2560.5" style="font-size:51px;font-weight:400;letter-spacing:1.3px;stroke:#000;stroke-width:1.3px;stroke-linejoin:round">250</text>
<text x="603.9" y="2659.1000000000004" style="font-size:71px;font-weight:700;letter-spacing:1.015px">Concentration (<tspan style="font-weight:400">μ</tspan>M)</text>
<text transform="translate(107.4,2252.8) rotate(-90)" style="font-size:92px;font-weight:700;letter-spacing:0.815px">Cell viability <tspan style="font-weight:400">(%)</tspan></text>
<text x="463.5" y="160.8" style="font-size:77px;font-weight:700;letter-spacing:-0.398px">HEK293T</text>
<text x="1382.6" y="138.5" style="font-size:98px;font-weight:700;letter-spacing:-1.1px">(A)</text>
<text x="639.1" y="1095.6" style="font-size:98.78px;font-weight:700;letter-spacing:0px;font-style:italic">‡</text>
<rect x="488.6" y="178.1" width="254.5" height="351.19999999999993" fill="#bdbdbd" opacity="0.5"/>
<rect x="487.6" y="177.1" width="254.5" height="351.19999999999993" rx="2.5" fill="#fff" stroke="#555" stroke-width="2.6"/>
<rect x="490.2" y="183.5" width="88.09999999999997" height="41.099999999999994" rx="2" fill="#1e1e1e" stroke="#000" stroke-width="2"/>
<rect x="488.6" y="225.8" width="91.2" height="3.4" fill="#8e8e8e"/>
<clipPath id="cAIBU"><rect x="494.5" y="233.6" width="83.3" height="38.8"/></clipPath>
<rect x="494.0" y="233.1" width="84.3" height="39.8" rx="3" fill="#a2a2a2"/>
<path d="M411.9,284.4 L474.7,221.6 M442.3,284.4 L505.1,221.6 M472.7,284.4 L535.5,221.6 M503.1,284.4 L565.9,221.6 M533.5,284.4 L596.3,221.6 M563.9,284.4 L626.7,221.6" stroke="#000" stroke-width="2.3" stroke-opacity="0.85" clip-path="url(#cAIBU)"/>
<rect x="494.0" y="233.1" width="84.3" height="39.8" rx="3" fill="none" stroke="#000" stroke-width="3"/>
<rect x="488.6" y="275.1" width="91.2" height="3.4" fill="#8e8e8e"/>
<clipPath id="cA20"><rect x="494.5" y="282.9" width="83.3" height="38.8"/></clipPath>
<rect x="494.0" y="282.4" width="84.3" height="39.8" rx="3" fill="#e445f2"/>
<path d="M411.9,333.7 L474.7,270.9 M442.3,333.7 L505.1,270.9 M472.7,333.7 L535.5,270.9 M503.1,333.7 L565.9,270.9 M533.5,333.7 L596.3,270.9 M563.9,333.7 L626.7,270.9" stroke="#000" stroke-width="2.3" stroke-opacity="0.85" clip-path="url(#cA20)"/>
<rect x="494.0" y="282.4" width="84.3" height="39.8" rx="3" fill="none" stroke="#000" stroke-width="3"/>
<rect x="488.6" y="324.4" width="91.2" height="3.4" fill="#8e8e8e"/>
<clipPath id="cA60"><rect x="494.5" y="332.2" width="83.3" height="38.8"/></clipPath>
<rect x="494.0" y="331.7" width="84.3" height="39.8" rx="3" fill="#ff2020"/>
<path d="M411.9,383.0 L474.7,320.2 M442.3,383.0 L505.1,320.2 M472.7,383.0 L535.5,320.2 M503.1,383.0 L565.9,320.2 M533.5,383.0 L596.3,320.2 M563.9,383.0 L626.7,320.2" stroke="#000" stroke-width="2.3" stroke-opacity="0.85" clip-path="url(#cA60)"/>
<rect x="494.0" y="331.7" width="84.3" height="39.8" rx="3" fill="none" stroke="#000" stroke-width="3"/>
<rect x="488.6" y="373.7" width="91.2" height="3.4" fill="#8e8e8e"/>
<clipPath id="cA100"><rect x="494.5" y="381.5" width="83.3" height="38.8"/></clipPath>
<rect x="494.0" y="381.0" width="84.3" height="39.8" rx="3" fill="#7189ff"/>
<path d="M411.9,432.3 L474.7,369.5 M442.3,432.3 L505.1,369.5 M472.7,432.3 L535.5,369.5 M503.1,432.3 L565.9,369.5 M533.5,432.3 L596.3,369.5 M563.9,432.3 L626.7,369.5" stroke="#000" stroke-width="2.3" stroke-opacity="0.85" clip-path="url(#cA100)"/>
<rect x="494.0" y="381.0" width="84.3" height="39.8" rx="3" fill="none" stroke="#000" stroke-width="3"/>
<rect x="488.6" y="423.0" width="91.2" height="3.4" fill="#8e8e8e"/>
<clipPath id="cA120"><rect x="494.5" y="430.8" width="83.3" height="38.8"/></clipPath>
<rect x="494.0" y="430.3" width="84.3" height="39.8" rx="3" fill="#257a5a"/>
<path d="M411.9,481.6 L474.7,418.8 M442.3,481.6 L505.1,418.8 M472.7,481.6 L535.5,418.8 M503.1,481.6 L565.9,418.8 M533.5,481.6 L596.3,418.8 M563.9,481.6 L626.7,418.8" stroke="#000" stroke-width="2.3" stroke-opacity="0.85" clip-path="url(#cA120)"/>
<rect x="494.0" y="430.3" width="84.3" height="39.8" rx="3" fill="none" stroke="#000" stroke-width="3"/>
<rect x="488.6" y="472.3" width="91.2" height="3.4" fill="#8e8e8e"/>
<clipPath id="cA160"><rect x="494.5" y="480.1" width="83.3" height="38.8"/></clipPath>
<rect x="494.0" y="479.6" width="84.3" height="39.8" rx="3" fill="#20ff20"/>
<path d="M411.9,530.9 L474.7,468.1 M442.3,530.9 L505.1,468.1 M472.7,530.9 L535.5,468.1 M503.1,530.9 L565.9,468.1 M533.5,530.9 L596.3,468.1 M563.9,530.9 L626.7,468.1" stroke="#000" stroke-width="2.3" stroke-opacity="0.85" clip-path="url(#cA160)"/>
<rect x="494.0" y="479.6" width="84.3" height="39.8" rx="3" fill="none" stroke="#000" stroke-width="3"/>
<rect x="488.6" y="522.2" width="91.2" height="2" fill="#c8c8c8"/>
<text x="589.6" y="217.0" style="font-size:37.5px;font-weight:700;letter-spacing:1.03px">Control</text>
<text x="588.6" y="266.13" style="font-size:37.5px;font-weight:700;letter-spacing:1.03px">IBU</text>
<text x="589.6" y="315.26" style="font-size:37.5px;font-weight:700;letter-spacing:1.03px">20 min</text>
<text x="589.6" y="364.39" style="font-size:37.5px;font-weight:700;letter-spacing:1.03px">60 min</text>
<text x="588.6" y="413.52" style="font-size:37.5px;font-weight:700;letter-spacing:1.03px">100 min</text>
<text x="588.6" y="462.65" style="font-size:37.5px;font-weight:700;letter-spacing:1.03px">120 min</text>
<text x="588.6" y="511.78" style="font-size:37.5px;font-weight:700;letter-spacing:1.03px">160 min</text>
<text x="490.3" y="1466.5" style="font-size:76px;font-weight:700;letter-spacing:0.5px">HEPG2</text>
<text x="1396.8" y="1491.3" style="font-size:100px;font-weight:700;letter-spacing:-1.1px">(B)</text>
<text x="639.1" y="2461.1" style="font-size:98.78px;font-weight:700;letter-spacing:0px;font-style:italic">‡</text>
<rect x="493.4" y="1482.5" width="254.60000000000002" height="351.9000000000001" fill="#bdbdbd" opacity="0.5"/>
<rect x="492.4" y="1481.5" width="254.60000000000002" height="351.9000000000001" rx="2.5" fill="#fff" stroke="#555" stroke-width="2.6"/>
<rect x="494.9" y="1487.3" width="86.30000000000007" height="41.700000000000045" rx="2" fill="#1e1e1e" stroke="#000" stroke-width="2"/>
<rect x="493.4" y="1530.2" width="89.2" height="3.4" fill="#8e8e8e"/>
<clipPath id="cBIBU"><rect x="499.4" y="1538.0" width="81.2" height="38.2"/></clipPath>
<rect x="498.9" y="1537.5" width="82.2" height="39.2" rx="3" fill="#a2a2a2"/>
<path d="M417.4,1588.2 L479.6,1526.0 M447.8,1588.2 L510.0,1526.0 M478.2,1588.2 L540.4,1526.0 M508.6,1588.2 L570.8,1526.0 M539.0,1588.2 L601.2,1526.0 M569.4,1588.2 L631.6,1526.0" stroke="#000" stroke-width="2.3" stroke-opacity="0.85" clip-path="url(#cBIBU)"/>
<rect x="498.9" y="1537.5" width="82.2" height="39.2" rx="3" fill="none" stroke="#000" stroke-width="3"/>
<rect x="493.4" y="1579.8" width="89.2" height="3.4" fill="#8e8e8e"/>
<clipPath id="cB20"><rect x="499.4" y="1587.6" width="81.2" height="38.2"/></clipPath>
<rect x="498.9" y="1587.1" width="82.2" height="39.2" rx="3" fill="#e445f2"/>
<path d="M417.4,1637.8 L479.6,1575.6 M447.8,1637.8 L510.0,1575.6 M478.2,1637.8 L540.4,1575.6 M508.6,1637.8 L570.8,1575.6 M539.0,1637.8 L601.2,1575.6 M569.4,1637.8 L631.6,1575.6" stroke="#000" stroke-width="2.3" stroke-opacity="0.85" clip-path="url(#cB20)"/>
<rect x="498.9" y="1587.1" width="82.2" height="39.2" rx="3" fill="none" stroke="#000" stroke-width="3"/>
<rect x="493.4" y="1629.4" width="89.2" height="3.4" fill="#8e8e8e"/>
<clipPath id="cB60"><rect x="499.4" y="1637.2" width="81.2" height="38.2"/></clipPath>
<rect x="498.9" y="1636.7" width="82.2" height="39.2" rx="3" fill="#ff2020"/>
<path d="M417.4,1687.4 L479.6,1625.2 M447.8,1687.4 L510.0,1625.2 M478.2,1687.4 L540.4,1625.2 M508.6,1687.4 L570.8,1625.2 M539.0,1687.4 L601.2,1625.2 M569.4,1687.4 L631.6,1625.2" stroke="#000" stroke-width="2.3" stroke-opacity="0.85" clip-path="url(#cB60)"/>
<rect x="498.9" y="1636.7" width="82.2" height="39.2" rx="3" fill="none" stroke="#000" stroke-width="3"/>
<rect x="493.4" y="1679.0" width="89.2" height="3.4" fill="#8e8e8e"/>
<clipPath id="cB100"><rect x="499.4" y="1686.8" width="81.2" height="38.2"/></clipPath>
<rect x="498.9" y="1686.3" width="82.2" height="39.2" rx="3" fill="#7189ff"/>
<path d="M417.4,1737.0 L479.6,1674.8 M447.8,1737.0 L510.0,1674.8 M478.2,1737.0 L540.4,1674.8 M508.6,1737.0 L570.8,1674.8 M539.0,1737.0 L601.2,1674.8 M569.4,1737.0 L631.6,1674.8" stroke="#000" stroke-width="2.3" stroke-opacity="0.85" clip-path="url(#cB100)"/>
<rect x="498.9" y="1686.3" width="82.2" height="39.2" rx="3" fill="none" stroke="#000" stroke-width="3"/>
<rect x="493.4" y="1728.6" width="89.2" height="3.4" fill="#8e8e8e"/>
<clipPath id="cB120"><rect x="499.4" y="1736.4" width="81.2" height="38.2"/></clipPath>
<rect x="498.9" y="1735.9" width="82.2" height="39.2" rx="3" fill="#257a5a"/>
<path d="M417.4,1786.6 L479.6,1724.4 M447.8,1786.6 L510.0,1724.4 M478.2,1786.6 L540.4,1724.4 M508.6,1786.6 L570.8,1724.4 M539.0,1786.6 L601.2,1724.4 M569.4,1786.6 L631.6,1724.4" stroke="#000" stroke-width="2.3" stroke-opacity="0.85" clip-path="url(#cB120)"/>
<rect x="498.9" y="1735.9" width="82.2" height="39.2" rx="3" fill="none" stroke="#000" stroke-width="3"/>
<rect x="493.4" y="1778.2" width="89.2" height="3.4" fill="#8e8e8e"/>
<clipPath id="cB160"><rect x="499.4" y="1786.0" width="81.2" height="38.2"/></clipPath>
<rect x="498.9" y="1785.5" width="82.2" height="39.2" rx="3" fill="#20ff20"/>
<path d="M417.4,1836.2 L479.6,1774.0 M447.8,1836.2 L510.0,1774.0 M478.2,1836.2 L540.4,1774.0 M508.6,1836.2 L570.8,1774.0 M539.0,1836.2 L601.2,1774.0 M569.4,1836.2 L631.6,1774.0" stroke="#000" stroke-width="2.3" stroke-opacity="0.85" clip-path="url(#cB160)"/>
<rect x="498.9" y="1785.5" width="82.2" height="39.2" rx="3" fill="none" stroke="#000" stroke-width="3"/>
<rect x="493.4" y="1828.4" width="89.2" height="2" fill="#c8c8c8"/>
<text x="594.5" y="1521.4" style="font-size:37.5px;font-weight:700;letter-spacing:0.666px">Control</text>
<text x="594.5" y="1570.95" style="font-size:37.5px;font-weight:700;letter-spacing:0.666px">IBU</text>
<text x="595.5" y="1620.5" style="font-size:37.5px;font-weight:700;letter-spacing:0.666px">20 min</text>
<text x="595.5" y="1670.05" style="font-size:37.5px;font-weight:700;letter-spacing:0.666px">60 min</text>
<text x="594.5" y="1719.6" style="font-size:37.5px;font-weight:700;letter-spacing:0.666px">100 min</text>
<text x="594.5" y="1769.15" style="font-size:37.5px;font-weight:700;letter-spacing:0.666px">120 min</text>
<text x="594.5" y="1818.7" style="font-size:37.5px;font-weight:700;letter-spacing:0.666px">160 min</text>
</svg></body></html>
